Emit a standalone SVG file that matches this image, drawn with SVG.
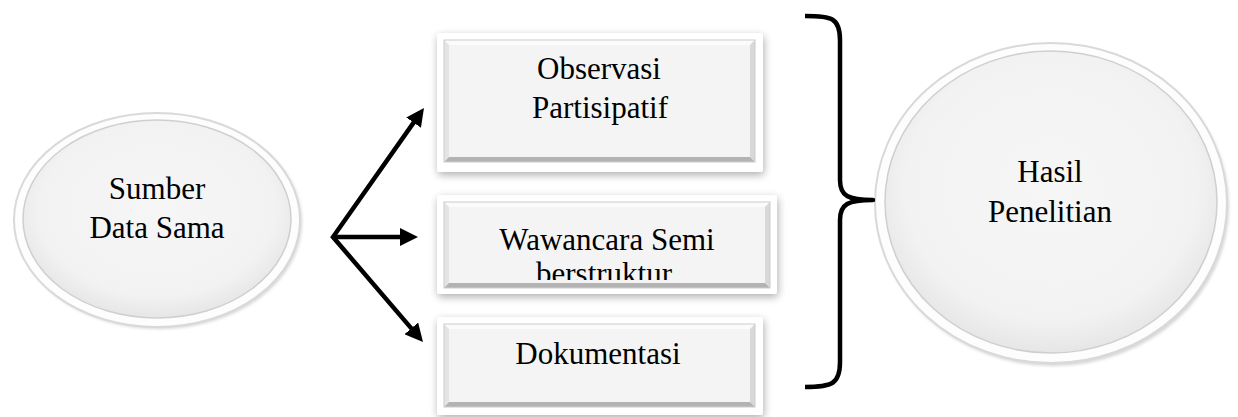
<svg xmlns="http://www.w3.org/2000/svg" width="1238" height="417" viewBox="0 0 1238 417">
  <style>
    .lbl { font-family: "Liberation Serif", "Times New Roman", serif; font-size: 31px; fill: #000; text-anchor: middle; }
    .frame { fill: #ffffff; filter: url(#drop); }
    .face { fill: #f4f4f4; }
    .bev-top { fill: #fbfbfb; }
    .bev-left { fill: #e4e4e4; }
    .bev-right { fill: #d8d8d8; }
    .bev-bottom { fill: #b3b3b3; }
    .edge { fill: none; stroke: #cccccc; stroke-width: 1; }
    .conn { fill: none; stroke: #000; stroke-width: 4.5; }
    .brace { fill: none; stroke: #000; stroke-width: 4.5; stroke-linecap: butt; stroke-linejoin: round; }
  </style>
  <defs>
    <filter id="drop" x="-10%" y="-15%" width="125%" height="140%">
      <feGaussianBlur in="SourceAlpha" stdDeviation="4"/>
      <feOffset dx="1" dy="3" result="b"/>
      <feComponentTransfer><feFuncA type="linear" slope="0.32"/></feComponentTransfer>
      <feMerge><feMergeNode/><feMergeNode in="SourceGraphic"/></feMerge>
    </filter>
    <filter id="soft" x="-10%" y="-10%" width="120%" height="120%">
      <feGaussianBlur stdDeviation="1.5"/>
    </filter>
    <radialGradient id="disc" cx="50%" cy="45%" r="55%">
      <stop offset="0" stop-color="#f6f6f6"/>
      <stop offset="0.8" stop-color="#f2f2f2"/>
      <stop offset="1" stop-color="#e6e6e6"/>
    </radialGradient>
    <marker id="head" viewBox="0 0 18 18" refX="4" refY="9" markerWidth="18" markerHeight="18" markerUnits="userSpaceOnUse" orient="auto-start-reverse">
      <path d="M0,0 L18,9 L0,18 z" fill="#000"/>
    </marker>
    <clipPath id="clipWawancara">
      <rect x="444" y="202" width="326" height="78"/>
    </clipPath>
  </defs>

  <rect width="1238" height="417" fill="#ffffff"/>

  <!-- source node -->
  <g id="node-sumber">
    <ellipse cx="159" cy="222" rx="143" ry="107" fill="#9a9a9a" opacity="0.4" filter="url(#soft)"/>
    <ellipse cx="157" cy="220" rx="143" ry="107" fill="#fdfdfd" stroke="#d9d9d9" stroke-width="2"/>
    <ellipse cx="157" cy="219" rx="134" ry="99" fill="url(#disc)" stroke="#cfcfcf" stroke-width="1.5"/>
    <text class="lbl" x="157" y="199">Sumber</text>
    <text class="lbl" x="157" y="238">Data Sama</text>
  </g>

  <!-- method boxes -->
  <g id="node-observasi">
    <rect class="frame" x="437" y="33" width="326" height="139" rx="3"/>
    <rect class="face" x="444" y="40" width="311" height="122"/>
    <polygon class="bev-top" points="444,40 755,40 750,45 449,45"/>
    <polygon class="bev-left" points="444,40 449,45 449,157 444,162"/>
    <polygon class="bev-right" points="755,40 755,162 750,157 750,45"/>
    <polygon class="bev-bottom" points="444,162 755,162 750,157 449,157"/>
    <rect class="edge" x="444" y="40" width="311" height="122"/>
    <text class="lbl" x="599" y="79">Observasi</text>
    <text class="lbl" x="600" y="118">Partisipatif</text>
  </g>

  <g id="node-wawancara">
    <rect class="frame" x="437" y="195" width="340" height="99" rx="3"/>
    <rect class="face" x="444" y="202" width="326" height="86"/>
    <polygon class="bev-top" points="444,202 770,202 765,207 449,207"/>
    <polygon class="bev-left" points="444,202 449,207 449,283 444,288"/>
    <polygon class="bev-right" points="770,202 770,288 765,283 765,207"/>
    <polygon class="bev-bottom" points="444,288 770,288 765,283 449,283"/>
    <rect class="edge" x="444" y="202" width="326" height="86"/>
    <g clip-path="url(#clipWawancara)">
      <text class="lbl" x="607" y="250">Wawancara Semi</text>
      <text class="lbl" x="604" y="284">berstruktur</text>
    </g>
  </g>

  <g id="node-dokumentasi">
    <rect class="frame" x="437" y="317" width="326" height="98" rx="3"/>
    <rect class="face" x="444" y="324" width="311" height="83"/>
    <polygon class="bev-top" points="444,324 755,324 750,329 449,329"/>
    <polygon class="bev-left" points="444,324 449,329 449,402 444,407"/>
    <polygon class="bev-right" points="755,324 755,407 750,402 750,329"/>
    <polygon class="bev-bottom" points="444,407 755,407 750,402 449,402"/>
    <rect class="edge" x="444" y="324" width="311" height="83"/>
    <text class="lbl" x="598" y="364">Dokumentasi</text>
  </g>

  <!-- result node -->
  <g id="node-hasil">
    <ellipse cx="1053" cy="206" rx="176" ry="160" fill="#9a9a9a" opacity="0.4" filter="url(#soft)"/>
    <ellipse cx="1051" cy="203" rx="176" ry="160" fill="#fdfdfd" stroke="#d9d9d9" stroke-width="2"/>
    <ellipse cx="1051" cy="202" rx="166" ry="151" fill="url(#disc)" stroke="#cfcfcf" stroke-width="1.5"/>
    <text class="lbl" x="1050" y="182">Hasil</text>
    <text class="lbl" x="1050" y="222">Penelitian</text>
  </g>

  <!-- connectors -->
  <g id="connectors">
    <polyline class="conn" points="415.9,119.4 333,237 413.9,331.4" stroke-linejoin="miter" stroke-miterlimit="10" marker-start="url(#head)" marker-end="url(#head)"/>
    <line class="conn" x1="335" y1="237" x2="404" y2="237" marker-end="url(#head)"/>
    <path class="brace" d="M805,16 C832,16 840,18 840,40 L840,180 C840,196 848,200 873,200 C848,200 840,204 840,220 L840,362 C840,384 832,387 805,387"/>
  </g>
</svg>
